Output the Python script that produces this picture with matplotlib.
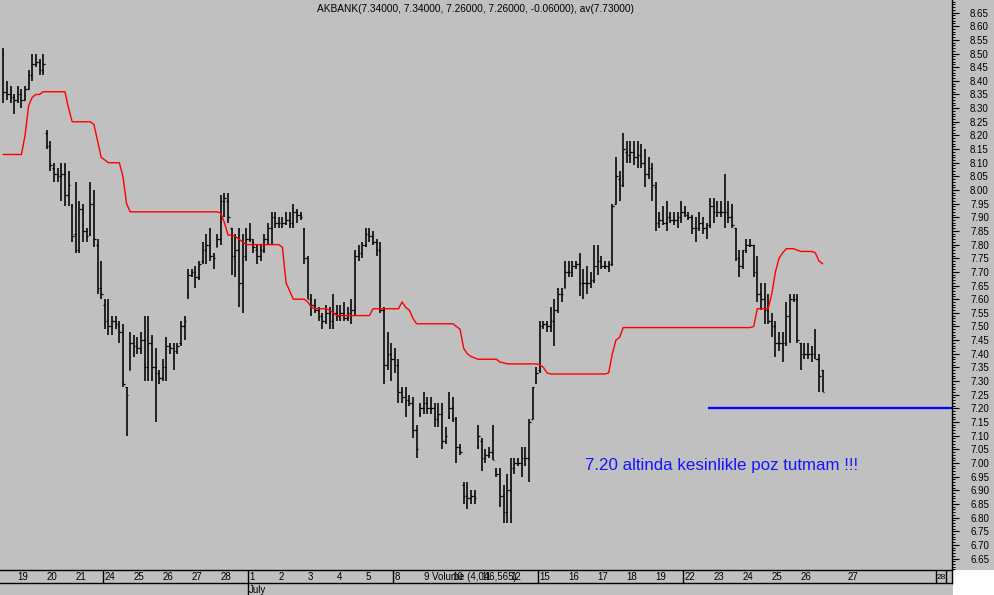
import matplotlib
matplotlib.use('Agg')
import matplotlib.pyplot as plt
import numpy as np
from matplotlib.patches import Rectangle
from matplotlib.ticker import MultipleLocator, FormatStrFormatter

plt.rcParams['font.family'] = ['Liberation Sans', 'DejaVu Sans']

BG = '#c0c0c0'

TITLE = 'AKBANK(7.34000, 7.34000, 7.26000, 7.26000, -0.06000), av(7.73000)'
NOTE = '7.20 altinda kesinlikle poz tutmam !!!'
VOLUME = 'Volume (4,046,565)'

# hourly bars: 4 bars of 18 Jun, then 8 bars a day, last day 7 bars
DAY_LABELS = ['19', '20', '21', '24', '25', '26', '27', '28', '1', '2', '3', '4', '5',
              '8', '9', '10', '11', '12', '15', '16', '17', '18', '19', '22', '23',
              '24', '25', '26']
WEEK_START_DAYS = [3, 8, 13, 18, 23]
MONTH_DAY = 8
MONTH_LABEL = 'July'
FUTURE_LABEL = '27'
FUTURE_POS = 233.0
END_LABEL = '28'
FIRST_BARS = 4
BARS_PER_DAY = 8

HIGH = [
    8.52, 8.40, 8.38, 8.35,
    8.38, 8.37, 8.38, 8.44, 8.50, 8.50, 8.48, 8.50,
    8.22, 8.18, 8.10, 8.08, 8.10, 8.10, 8.07, 7.95,
    8.03, 7.96, 7.95, 7.86, 8.03, 8.00, 7.82, 7.74,
    7.60, 7.60, 7.54, 7.54, 7.52, 7.51, 7.28, 7.48,
    7.47, 7.46, 7.48, 7.54, 7.54, 7.47, 7.42, 7.34,
    7.38, 7.46, 7.44, 7.44, 7.44, 7.52, 7.54, 7.71,
    7.71, 7.72, 7.74, 7.81, 7.84, 7.86, 7.77, 7.84,
    7.98, 7.99, 7.99, 7.86, 7.84, 7.86, 7.84, 7.86,
    7.88, 7.82, 7.80, 7.80, 7.84, 7.88, 7.92, 7.92,
    7.90, 7.90, 7.92, 7.92, 7.95, 7.93, 7.92, 7.86,
    7.76, 7.62, 7.60, 7.57, 7.55, 7.58, 7.57, 7.62,
    7.58, 7.58, 7.59, 7.57, 7.60, 7.78, 7.80, 7.81,
    7.86, 7.86, 7.85, 7.82, 7.81, 7.57, 7.48, 7.44,
    7.42, 7.38, 7.28, 7.28, 7.25, 7.24, 7.14, 7.22,
    7.26, 7.24, 7.24, 7.22, 7.22, 7.22, 7.13, 7.26,
    7.24, 7.17, 7.07, 6.93, 6.93, 6.90, 6.90, 7.14,
    7.09, 7.05, 7.06, 7.14, 6.98, 6.98, 6.92, 6.96,
    7.02, 7.02, 7.02, 7.06, 7.06, 7.16, 7.28, 7.35,
    7.52, 7.52, 7.52, 7.57, 7.60, 7.64, 7.64, 7.74,
    7.74, 7.74, 7.74, 7.77, 7.71, 7.72, 7.70, 7.80,
    7.80, 7.76, 7.74, 7.74, 7.95, 8.12, 8.07, 8.21,
    8.18, 8.18, 8.18, 8.18, 8.17, 8.15, 8.12, 8.10,
    8.03, 7.92, 7.94, 7.96, 7.92, 7.92, 7.92, 7.96,
    7.94, 7.92, 7.91, 7.90, 7.92, 7.90, 7.88, 7.97,
    7.97, 7.96, 7.96, 8.06, 7.96, 7.95, 7.86, 7.78,
    7.78, 7.82, 7.82, 7.80, 7.76, 7.66, 7.66, 7.62,
    7.55, 7.52, 7.48, 7.48, 7.59, 7.62, 7.62, 7.62,
    7.44, 7.44, 7.44, 7.43, 7.49, 7.40, 7.34,
]

LOW = [
    8.32, 8.33, 8.32, 8.28,
    8.32, 8.30, 8.33, 8.37, 8.40, 8.45, 8.42, 8.42,
    8.15, 8.07, 8.03, 8.03, 7.96, 7.94, 7.94, 7.81,
    7.77, 7.77, 7.81, 7.81, 7.83, 7.79, 7.62, 7.60,
    7.49, 7.47, 7.47, 7.49, 7.44, 7.28, 7.10, 7.34,
    7.39, 7.40, 7.40, 7.30, 7.30, 7.30, 7.15, 7.29,
    7.30, 7.30, 7.40, 7.34, 7.40, 7.43, 7.45, 7.60,
    7.68, 7.64, 7.67, 7.73, 7.73, 7.74, 7.71, 7.79,
    7.80, 7.90, 7.88, 7.69, 7.68, 7.57, 7.55, 7.74,
    7.81, 7.77, 7.73, 7.74, 7.77, 7.80, 7.80, 7.86,
    7.86, 7.86, 7.87, 7.86, 7.86, 7.88, 7.89, 7.73,
    7.60, 7.54, 7.55, 7.52, 7.49, 7.51, 7.49, 7.49,
    7.52, 7.52, 7.52, 7.52, 7.51, 7.54, 7.74, 7.75,
    7.79, 7.81, 7.80, 7.76, 7.55, 7.29, 7.34, 7.30,
    7.33, 7.22, 7.22, 7.17, 7.21, 7.09, 7.02, 7.17,
    7.18, 7.18, 7.18, 7.13, 7.13, 7.05, 7.07, 7.16,
    7.15, 7.00, 7.03, 6.85, 6.83, 6.85, 6.85, 7.05,
    6.97, 7.00, 7.02, 7.01, 6.95, 6.84, 6.78, 6.78,
    6.78, 6.96, 6.99, 6.95, 6.99, 6.93, 7.16, 7.29,
    7.33, 7.49, 7.48, 7.48, 7.43, 7.55, 7.59, 7.64,
    7.68, 7.68, 7.71, 7.61, 7.60, 7.62, 7.64, 7.66,
    7.69, 7.71, 7.71, 7.70, 7.72, 7.95, 7.96, 8.01,
    8.10, 8.10, 8.09, 8.08, 8.08, 8.01, 8.04, 7.96,
    7.85, 7.86, 7.87, 7.85, 7.88, 7.87, 7.86, 7.88,
    7.90, 7.89, 7.84, 7.81, 7.85, 7.84, 7.82, 7.86,
    7.88, 7.90, 7.90, 7.86, 7.88, 7.86, 7.74, 7.68,
    7.71, 7.77, 7.79, 7.68, 7.59, 7.56, 7.51, 7.51,
    7.46, 7.39, 7.41, 7.37, 7.43, 7.44, 7.59, 7.44,
    7.34, 7.38, 7.38, 7.37, 7.38, 7.26, 7.26,
]

OPEN = [
    8.50, 8.36, 8.35, 8.34,
    8.33, 8.35, 8.33, 8.37, 8.42, 8.46, 8.47, 8.44,
    8.21, 8.16, 8.08, 8.06, 8.05, 8.06, 7.98, 7.94,
    7.84, 7.78, 7.93, 7.85, 7.84, 7.95, 7.80, 7.64,
    7.58, 7.52, 7.50, 7.52, 7.50, 7.48, 7.28, 7.34,
    7.44, 7.43, 7.42, 7.45, 7.35, 7.44, 7.35, 7.33,
    7.31, 7.35, 7.43, 7.42, 7.41, 7.44, 7.50, 7.62,
    7.69, 7.70, 7.68, 7.74, 7.78, 7.80, 7.76, 7.79,
    7.82, 7.96, 7.96, 7.86, 7.76, 7.78, 7.66, 7.76,
    7.82, 7.81, 7.78, 7.76, 7.78, 7.82, 7.86, 7.90,
    7.88, 7.88, 7.88, 7.89, 7.88, 7.92, 7.91, 7.86,
    7.75, 7.60, 7.58, 7.56, 7.54, 7.52, 7.55, 7.52,
    7.55, 7.54, 7.55, 7.53, 7.55, 7.56, 7.76, 7.77,
    7.80, 7.84, 7.83, 7.81, 7.78, 7.56, 7.36, 7.40,
    7.38, 7.36, 7.26, 7.24, 7.23, 7.22, 7.12, 7.18,
    7.20, 7.22, 7.20, 7.20, 7.16, 7.18, 7.08, 7.17,
    7.20, 7.16, 7.06, 6.92, 6.88, 6.87, 6.88, 7.06,
    7.08, 7.02, 7.03, 7.04, 6.97, 6.96, 6.88, 6.82,
    6.90, 6.98, 7.00, 7.00, 7.02, 7.02, 7.16, 7.30,
    7.34, 7.50, 7.51, 7.50, 7.52, 7.56, 7.62, 7.64,
    7.70, 7.70, 7.72, 7.73, 7.66, 7.66, 7.66, 7.67,
    7.72, 7.74, 7.72, 7.72, 7.73, 7.95, 8.04, 8.02,
    8.14, 8.13, 8.14, 8.12, 8.13, 8.10, 8.06, 8.08,
    8.01, 7.88, 7.89, 7.88, 7.90, 7.89, 7.89, 7.90,
    7.92, 7.91, 7.90, 7.86, 7.86, 7.88, 7.86, 7.87,
    7.94, 7.92, 7.92, 7.92, 7.92, 7.90, 7.86, 7.75,
    7.72, 7.78, 7.80, 7.80, 7.70, 7.62, 7.60, 7.56,
    7.52, 7.50, 7.44, 7.44, 7.44, 7.54, 7.60, 7.60,
    7.44, 7.40, 7.40, 7.40, 7.40, 7.38, 7.34,
]

CLOSE = [
    8.36, 8.35, 8.34, 8.33,
    8.35, 8.33, 8.37, 8.42, 8.46, 8.47, 8.44, 8.46,
    8.16, 8.09, 8.06, 8.05, 8.06, 7.98, 8.02, 7.83,
    7.78, 7.93, 7.85, 7.83, 7.95, 7.82, 7.64, 7.62,
    7.52, 7.50, 7.52, 7.51, 7.48, 7.29, 7.25, 7.44,
    7.43, 7.42, 7.45, 7.35, 7.44, 7.35, 7.33, 7.31,
    7.35, 7.43, 7.42, 7.41, 7.43, 7.50, 7.52, 7.69,
    7.70, 7.68, 7.73, 7.78, 7.80, 7.76, 7.75, 7.82,
    7.96, 7.97, 7.90, 7.76, 7.78, 7.66, 7.76, 7.82,
    7.82, 7.79, 7.76, 7.78, 7.82, 7.86, 7.90, 7.88,
    7.88, 7.88, 7.89, 7.88, 7.92, 7.91, 7.90, 7.75,
    7.60, 7.58, 7.56, 7.54, 7.52, 7.55, 7.52, 7.55,
    7.54, 7.55, 7.53, 7.55, 7.56, 7.76, 7.77, 7.80,
    7.84, 7.83, 7.81, 7.78, 7.56, 7.36, 7.40, 7.38,
    7.36, 7.26, 7.24, 7.23, 7.22, 7.12, 7.05, 7.20,
    7.22, 7.20, 7.20, 7.16, 7.18, 7.08, 7.10, 7.20,
    7.16, 7.06, 7.04, 6.88, 6.87, 6.88, 6.87, 7.10,
    7.02, 7.03, 7.04, 7.01, 6.96, 6.88, 6.82, 6.90,
    6.98, 7.00, 7.00, 7.02, 7.02, 7.15, 7.28, 7.33,
    7.50, 7.51, 7.50, 7.52, 7.56, 7.62, 7.62, 7.70,
    7.70, 7.72, 7.73, 7.66, 7.66, 7.66, 7.67, 7.72,
    7.74, 7.72, 7.72, 7.73, 7.94, 8.05, 8.02, 8.15,
    8.13, 8.14, 8.12, 8.13, 8.10, 8.06, 8.08, 8.02,
    7.88, 7.89, 7.88, 7.90, 7.89, 7.89, 7.90, 7.92,
    7.91, 7.90, 7.86, 7.86, 7.88, 7.86, 7.87, 7.94,
    7.92, 7.92, 7.92, 7.92, 7.90, 7.87, 7.75, 7.72,
    7.78, 7.80, 7.80, 7.70, 7.62, 7.60, 7.56, 7.52,
    7.50, 7.44, 7.44, 7.44, 7.54, 7.60, 7.60, 7.45,
    7.40, 7.40, 7.40, 7.40, 7.38, 7.32, 7.26,
]

AV = [
    8.13, 8.13, 8.13, 8.13,
    8.13, 8.13, 8.20, 8.31, 8.34, 8.35, 8.35, 8.36,
    8.36, 8.36, 8.36, 8.36, 8.36, 8.36, 8.30, 8.25,
    8.25, 8.25, 8.25, 8.25, 8.25, 8.24, 8.18, 8.12,
    8.11, 8.10, 8.10, 8.10, 8.10, 8.05, 7.95, 7.92,
    7.92, 7.92, 7.92, 7.92, 7.92, 7.92, 7.92, 7.92,
    7.92, 7.92, 7.92, 7.92, 7.92, 7.92, 7.92, 7.92,
    7.92, 7.92, 7.92, 7.92, 7.92, 7.92, 7.92, 7.92,
    7.915, 7.88, 7.835, 7.835, 7.83, 7.82, 7.81, 7.80,
    7.80, 7.80, 7.80, 7.80, 7.80, 7.80, 7.80, 7.80,
    7.80, 7.79, 7.66, 7.63, 7.60, 7.60, 7.60, 7.60,
    7.59, 7.57, 7.565, 7.565, 7.565, 7.565, 7.56, 7.55,
    7.54, 7.54, 7.54, 7.54, 7.54, 7.54, 7.54, 7.54,
    7.54, 7.54, 7.565, 7.565, 7.565, 7.565, 7.565, 7.565,
    7.565, 7.565, 7.59, 7.57, 7.56, 7.53, 7.51, 7.51,
    7.51, 7.51, 7.51, 7.51, 7.51, 7.51, 7.51, 7.51,
    7.51, 7.50, 7.49, 7.42, 7.40, 7.39, 7.385, 7.38,
    7.38, 7.38, 7.38, 7.38, 7.38, 7.37, 7.367, 7.363,
    7.363, 7.363, 7.363, 7.363, 7.363, 7.363, 7.363, 7.363,
    7.36, 7.35, 7.33, 7.326, 7.326, 7.326, 7.326, 7.326,
    7.326, 7.326, 7.326, 7.326, 7.326, 7.326, 7.326, 7.326,
    7.326, 7.326, 7.326, 7.33, 7.40, 7.45, 7.46, 7.496,
    7.496, 7.496, 7.496, 7.496, 7.496, 7.496, 7.496, 7.496,
    7.496, 7.496, 7.496, 7.496, 7.496, 7.496, 7.496, 7.496,
    7.496, 7.496, 7.496, 7.496, 7.496, 7.496, 7.496, 7.496,
    7.496, 7.496, 7.496, 7.496, 7.496, 7.496, 7.496, 7.496,
    7.496, 7.496, 7.496, 7.50, 7.565, 7.565, 7.565, 7.565,
    7.62, 7.70, 7.75, 7.77, 7.785, 7.785, 7.785, 7.78,
    7.775, 7.775, 7.775, 7.775, 7.77, 7.74, 7.73,
]

STOP_LEVEL = 7.20
STOP_FROM = 194.4      # bar index where the blue line begins
NOTE_POS = (160.5, 6.99)
VOLUME_POS = 118.3

W, H = 994, 595
X_MIN, X_MAX = -0.91, 261.71
Y_MIN, Y_MAX = 6.608, 8.696


def main():
    fig = plt.figure(figsize=(W / 100, H / 100), dpi=100, facecolor=BG)

    ax = fig.add_axes([0, 25 / H, 952 / W, 570 / H])
    ax.set_facecolor(BG)
    x = np.arange(len(HIGH))

    ax.vlines(x, LOW, HIGH, color='black', linewidth=1.15)
    ax.hlines(OPEN, x - 0.45, x, color='black', linewidth=0.9)
    ax.hlines(CLOSE, x, x + 0.45, color='black', linewidth=0.9)
    ax.plot(x, AV, color='#ff0000', linewidth=1.0)

    ax.hlines(STOP_LEVEL, STOP_FROM, X_MAX, color='#0000ff', linewidth=1.6)
    ax.text(NOTE_POS[0], NOTE_POS[1], NOTE, color='#1515ff', fontsize=12.2,
            ha='left', va='center')

    ax.set_xlim(X_MIN, X_MAX)
    ax.set_ylim(Y_MIN, Y_MAX)
    for side in ['left', 'top', 'bottom']:
        ax.spines[side].set_visible(False)
    ax.spines['right'].set_color('black')
    ax.spines['right'].set_linewidth(1.0)
    ax.set_xticks([])
    ax.yaxis.tick_right()
    ax.yaxis.set_major_locator(MultipleLocator(0.05))
    ax.yaxis.set_minor_locator(MultipleLocator(0.01))
    ax.yaxis.set_major_formatter(FormatStrFormatter('%.2f'))
    ax.tick_params(axis='y', which='major', length=5, width=0.8, labelsize=7,
                   pad=8, colors='black')
    ax.tick_params(axis='y', which='minor', length=2.2, width=0.7)

    fig.text(0.478, 1 - 9 / H, TITLE, fontsize=7.3, ha='center', va='center')

    # date strip
    sx = fig.add_axes([0, 12 / H, 952 / W, 13 / H])
    sx.set_facecolor(BG)
    sx.set_xlim(X_MIN, X_MAX)
    sx.set_ylim(0, 1)
    sx.set_xticks([])
    sx.set_yticks([])
    sx.spines['left'].set_visible(False)
    for side in ['top', 'bottom', 'right']:
        sx.spines[side].set_linewidth(1.0)

    for k, lab in enumerate(DAY_LABELS):
        start = FIRST_BARS + BARS_PER_DAY * k
        sx.text(start - 0.1, 0.45, lab, fontsize=7, ha='left', va='center')
    for k in WEEK_START_DAYS:
        sx.axvline(FIRST_BARS + BARS_PER_DAY * k - 0.5, color='black', linewidth=1.0)
    sx.text(FUTURE_POS, 0.45, FUTURE_LABEL, fontsize=7, ha='left', va='center')
    sx.text(VOLUME_POS, 0.45, VOLUME, fontsize=7, ha='left', va='center')

    end_a = 936 / 3.625 + X_MIN
    end_b = 946 / 3.625 + X_MIN
    sx.axvline(end_a, color='black', linewidth=1.0)
    sx.axvline(end_b, color='black', linewidth=1.0)
    sx.text(end_a + 0.2, 0.45, END_LABEL, fontsize=6, ha='left', va='center')

    month_x = FIRST_BARS + BARS_PER_DAY * MONTH_DAY - 0.5
    sx.plot([month_x, month_x], [0, -1], color='black', linewidth=1.0, clip_on=False)
    sx.text(month_x + 0.2, -0.55, MONTH_LABEL, fontsize=7, ha='left', va='center')

    fig.patches.append(Rectangle((953 / W, 0), 1 - 953 / W, 25 / H,
                                 transform=fig.transFigure, facecolor='white',
                                 edgecolor='none', zorder=-1))

    fig.savefig('out.png', dpi=100, facecolor=BG)
    plt.close(fig)


if __name__ == '__main__':
    main()
